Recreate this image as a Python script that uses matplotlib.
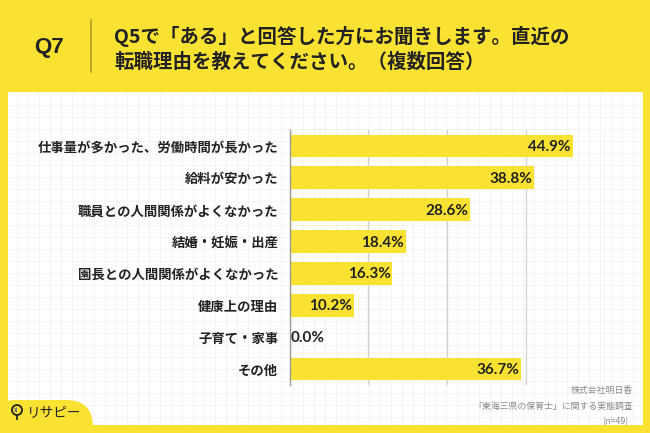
import matplotlib
matplotlib.use("Agg")
import matplotlib.pyplot as plt
from matplotlib.patches import Rectangle, Circle, FancyBboxPatch, Wedge
import numpy as np

plt.rcParams['font.family'] = ['Noto Sans CJK JP', 'DejaVu Sans']

categories = ["仕事量が多かった、労働時間が長かった", "給料が安かった", "職員との人間関係がよくなかった",
              "結婚・妊娠・出産", "園長との人間関係がよくなかった", "健康上の理由", "子育て・家事", "その他"]
values = [44.9, 38.8, 28.6, 18.4, 16.3, 10.2, 0.0, 36.7]
title_q = "Q7"
title_lines = ["Q5で「ある」と回答した方にお聞きします。直近の", "転職理由を教えてください。（複数回答）"]
footer_lines = ["株式会社明日香", "「東海三県の保育士」に関する実態調査", "(n=49)"]
logo_text = "リサピー"

YELLOW = '#F9E232'
W, H = 650, 433
fig = plt.figure(figsize=(W/100, H/100), dpi=100)
fig.patch.set_facecolor(YELLOW)

def fx(x): return x / W
def fy(y): return 1 - y / H

# white panel
px0, px1, py0, py1 = 8, 643, 92, 425
fig.patches.append(Rectangle((fx(px0), fy(py1)), fx(px1 - px0), (py1 - py0) / H,
                             transform=fig.transFigure, facecolor='white', edgecolor='none', zorder=0))

# faint background grid
bg = fig.add_axes([fx(px0), fy(py1), fx(px1 - px0), (py1 - py0) / H], zorder=0.5)
bg.set_xlim(px0, px1); bg.set_ylim(py1, py0); bg.axis('off')
for x in np.arange(px0 + 9, px1, 11):
    bg.axvline(x, color='#f4f4f4', lw=0.7)
for y in np.arange(py0 + 13, py1, 12):
    bg.axhline(y, color='#f4f4f4', lw=0.7)

# logo tab (bottom-left)
bg.add_patch(FancyBboxPatch((px0 - 20, 400), 105, 60, boxstyle="round,pad=0,rounding_size=27",
                            facecolor=YELLOW, edgecolor='none', zorder=3, clip_on=False))
bg.add_patch(Circle((17, 410), 5.0, facecolor='none', edgecolor='#222', lw=1.3, zorder=4, clip_on=False))
bg.add_patch(Wedge((17, 410), 2.6, 90, 270, facecolor='#777', edgecolor='none', zorder=4, clip_on=False))
bg.plot([17, 17], [415, 419], color='#222', lw=1.3, zorder=4, clip_on=False)
bg.text(27, 412, logo_text, fontsize=9.8, color='#222', va='center', ha='left', zorder=5)

# header
fig.text(fx(49), fy(47), title_q, fontsize=16, fontweight='bold', color='#222',
         ha='center', va='center', family=['Liberation Sans', 'DejaVu Sans'])
fig.add_artist(plt.Line2D([fx(90.5), fx(90.5)], [fy(20), fy(72)], color='#B59E2A', lw=1.2,
                          transform=fig.transFigure))
fig.text(fx(114), fy(36), title_lines[0], fontsize=14, fontweight='bold', color='#222',
         ha='left', va='center')
fig.text(fx(114), fy(62), title_lines[1], fontsize=14, fontweight='bold', color='#222',
         ha='left', va='center')

# main axes
ax_l, ax_r, ax_t, ax_b = 289.5, 605, 130, 385
ax = fig.add_axes([fx(ax_l), fy(ax_b), fx(ax_r - ax_l), (ax_b - ax_t) / H], zorder=2)
ax.patch.set_alpha(0)
y = np.arange(len(categories))
ax.barh(y, values, height=0.71, color=YELLOW, zorder=2)
ax.set_xlim(0, 50)
ax.set_ylim(len(categories) - 0.5, -0.5)
ax.set_xticks([12.5, 25, 37.5, 50])
ax.set_xticklabels([])
ax.tick_params(axis='both', length=0)
ax.grid(axis='x', color='#d4d4d4', lw=1, zorder=1)
for s in ['top', 'right', 'bottom']:
    ax.spines[s].set_visible(False)
ax.spines['left'].set_color('#999999')
ax.spines['left'].set_linewidth(1)
ax.set_yticks(y)
ax.set_yticklabels(categories, fontsize=9.6, fontweight='bold', color='#222')
ax.tick_params(axis='y', pad=8)

for yi, v in zip(y, values):
    lbl = f"{v:.1f}%"
    if v > 3:
        ax.text(v - 0.3, yi + 0.03, lbl, ha='right', va='center', fontsize=11, fontweight='bold',
                color='#222', family=['Lato', 'DejaVu Sans'], zorder=3)
    else:
        ax.text(v + 0.1, yi + 0.03, lbl, ha='left', va='center', fontsize=11, fontweight='bold',
                color='#222', family=['Lato', 'DejaVu Sans'], zorder=3)

# footer
for i, t in enumerate(footer_lines):
    fig.text(fx(633) if i < 2 else fx(628), fy(390 + i * 16), t, fontsize=6.4, color='#8a8a8a',
             ha='right', va='center')

fig.savefig('out.png', dpi=100, facecolor=fig.get_facecolor())
